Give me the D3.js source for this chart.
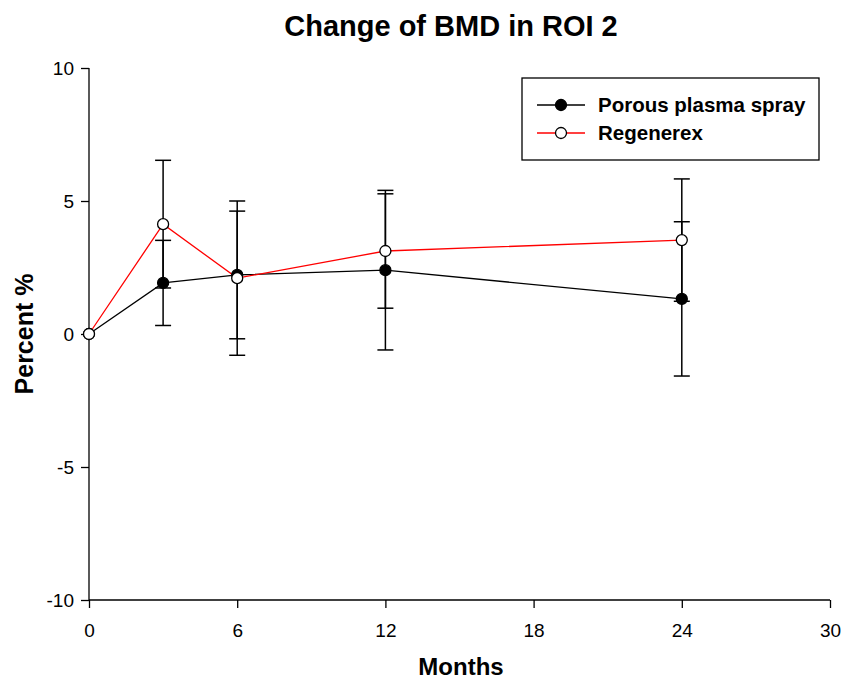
<!DOCTYPE html>
<html>
<head>
<meta charset="utf-8">
<script src="https://cdn.jsdelivr.net/npm/d3@7.9.0/dist/d3.min.js"></script>
<style>
  body { margin: 0; background: #fff; }
  text { font-family: "Liberation Sans", Arial, sans-serif; }
</style>
</head>
<body>
<svg id="chart" width="856" height="680"></svg>
<script>
// ---- data ----
const months = [0, 3, 6, 12, 24];
const porous = [0, 1.92, 2.22, 2.4, 1.32];
const porousErr = [0, 1.6, 2.4, 3.0, 2.9];
const regenerex = [0, 4.13, 2.1, 3.12, 3.53];
const regenerexErr = [0, 2.4, 2.9, 2.15, 2.3];
const xTicks = [0, 6, 12, 18, 24, 30];
const yTicks = [-10, -5, 0, 5, 10];

const series = [
  { name: 'Porous plasma spray', values: porous, err: porousErr, line: '#000', fill: '#000' },
  { name: 'Regenerex', values: regenerex, err: regenerexErr, line: '#ff0000', fill: '#fff' },
];

// ---- layout ----
const svg = d3.select('#chart');
const plotLeft = 89, plotRight = 830, plotTop = 68, plotBottom = 600;

const x = d3.scaleLinear().domain([0, 30]).range([plotLeft, plotRight]);
const y = d3.scaleLinear().domain([-10, 10]).range([plotBottom, plotTop]);

// axes (plain hyphen for negatives, like the original)
const yAxis = svg.append('g')
  .attr('transform', `translate(${plotLeft},0)`)
  .call(d3.axisLeft(y).tickValues(yTicks).tickSize(8).tickPadding(7).tickFormat((d) => String(d)));
const xAxis = svg.append('g')
  .attr('transform', `translate(0,${plotBottom})`)
  .call(d3.axisBottom(x).tickValues(xTicks).tickSize(8).tickPadding(16));

[xAxis, yAxis].forEach((g) => {
  g.select('.domain').attr('stroke', '#000').attr('stroke-width', 1.3);
  g.selectAll('.tick line').attr('stroke', '#000').attr('stroke-width', 1.3);
  g.selectAll('.tick text')
    .attr('fill', '#000')
    .style('font-size', '19px')
    .style('font-family', '"Liberation Sans", Arial, sans-serif');
});
// plain domain lines, no outer tick ends
xAxis.select('.domain').attr('d', `M${plotLeft},0H${plotRight}`);
yAxis.select('.domain').attr('d', `M0,${plotTop}V${plotBottom}`);

// titles
svg.append('text')
  .attr('x', 451).attr('y', 36)
  .attr('text-anchor', 'middle')
  .style('font-size', '29px').style('font-weight', 'bold')
  .text('Change of BMD in ROI 2');

svg.append('text')
  .attr('x', 461).attr('y', 675)
  .attr('text-anchor', 'middle')
  .style('font-size', '24px').style('font-weight', 'bold')
  .text('Months');

svg.append('text')
  .attr('transform', `translate(33,334) rotate(-90)`)
  .attr('text-anchor', 'middle')
  .style('font-size', '25px').style('font-weight', 'bold')
  .text('Percent %');

// error bars (drawn below markers)
const capW = 8;
series.forEach((s) => {
  const g = svg.append('g');
  months.forEach((m, i) => {
    if (!s.err[i]) return;
    const hi = s.values[i] + s.err[i];
    const lo = s.values[i] - s.err[i];
    g.append('line')
      .attr('x1', x(m)).attr('x2', x(m))
      .attr('y1', y(hi)).attr('y2', y(lo))
      .attr('stroke', '#000').attr('stroke-width', 1.5);
    [hi, lo].forEach((v) => {
      g.append('line')
        .attr('x1', x(m) - capW).attr('x2', x(m) + capW)
        .attr('y1', y(v)).attr('y2', y(v))
        .attr('stroke', '#000').attr('stroke-width', 1.5);
    });
  });
});

// lines + markers
const line = d3.line().x((d) => x(d[0])).y((d) => y(d[1]));
series.forEach((s) => {
  const pts = months.map((m, i) => [m, s.values[i]]);
  svg.append('path')
    .attr('d', line(pts))
    .attr('fill', 'none')
    .attr('stroke', s.line)
    .attr('stroke-width', 1.3);
});
series.forEach((s) => {
  svg.append('g').selectAll('circle')
    .data(months.map((m, i) => [m, s.values[i]]))
    .join('circle')
    .attr('cx', (d) => x(d[0]))
    .attr('cy', (d) => y(d[1]))
    .attr('r', 5.5)
    .attr('fill', s.fill)
    .attr('stroke', '#000')
    .attr('stroke-width', 1.3);
});

// legend
const legend = svg.append('g');
legend.append('rect')
  .attr('x', 522).attr('y', 78).attr('width', 297).attr('height', 82)
  .attr('fill', '#fff').attr('stroke', '#000').attr('stroke-width', 1.3);
series.forEach((s, i) => {
  const ly = 105 + i * 28;
  legend.append('line')
    .attr('x1', 537).attr('x2', 585).attr('y1', ly).attr('y2', ly)
    .attr('stroke', s.line).attr('stroke-width', 1.3);
  legend.append('circle')
    .attr('cx', 561).attr('cy', ly).attr('r', 5.5)
    .attr('fill', s.fill).attr('stroke', '#000').attr('stroke-width', 1.3);
  legend.append('text')
    .attr('x', 598).attr('y', ly + 7)
    .style('font-size', '20.5px').style('font-weight', 'bold')
    .text(s.name);
});
</script>
</body>
</html>
